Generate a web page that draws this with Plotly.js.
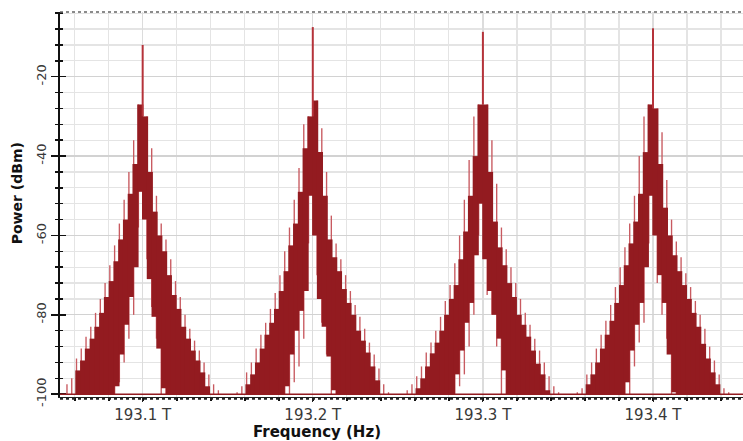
<!DOCTYPE html>
<html><head><meta charset="utf-8">
<script src="https://cdn.plot.ly/plotly-3.0.1.min.js"></script>
<style>html,body{margin:0;padding:0;background:#fff}#chart{width:743px;height:441px}</style>
</head><body><div id="chart"></div>
<script>
// ---- data ----
const peakCenters = [193.1, 193.2, 193.3, 193.4];          // THz
const peakTops    = [-12, -7.5, -8.7, -7.8];               // dBm, central spike
const slotOffsets = [-0.0434,-0.0406,-0.0378,-0.035,-0.0322,-0.0294,-0.0266,-0.0238,-0.021,-0.0182,-0.0154,-0.0126,-0.0098,-0.007,-0.0042,-0.0014,
                      0.0014,0.0042,0.007,0.0098,0.0126,0.0154,0.0182,0.021,0.0238,0.0266,0.0294,0.0322,0.035,0.0378,0.0406,0.0434]; // THz from centre

// dense part (top / bottom of each step, dBm)
const p1Top  = [-100,-100,-94,-91.5,-88.5,-86,-83,-79.5,-75.5,-71.5,-66.5,-61,-56,-49.5,-42,-27,-30,-44,-54,-60,-64,-70,-75,-78.5,-83,-86,-89,-91.5,-94.5,-98,-100,-100];
const p1Base = [-100,-100,-100,-100,-100,-100,-100,-100,-100,-100,-98,-90,-82.5,-75.5,-68,-49,-56,-71,-80.5,-88.5,-98.5,-100,-100,-100,-100,-100,-100,-100,-100,-100,-100,-100];
const p2Top  = [-100,-100,-97.5,-95,-92,-88.5,-85,-82,-78.5,-74,-69,-62.5,-57,-49,-38,-30,-26,-39,-50,-61,-65.5,-69,-73.5,-77,-80,-84,-86.5,-89.5,-93,-96.5,-100,-100];
const p2Base = [-100,-100,-100,-100,-100,-100,-100,-100,-100,-100,-98,-90,-84,-79,-74,-50,-60,-76,-83,-90.5,-99,-100,-100,-100,-100,-100,-100,-100,-100,-100,-100,-100];
const p3Top  = [-100,-100,-98.5,-96,-93,-89.7,-87,-84,-80,-76,-72.5,-66,-59,-50,-40,-27,-27,-44,-56.5,-63,-67.5,-72,-75.5,-80,-82.5,-85.5,-89,-92.3,-95,-99,-100,-100];
const p3Base = [-100,-100,-100,-100,-100,-100,-100,-100,-100,-100,-95,-89,-82,-77,-65,-52,-66,-74,-80,-86,-94,-100,-100,-100,-100,-100,-100,-100,-100,-100,-100,-100];
const p4Top  = [-100,-100,-97.5,-95,-92,-88.5,-85,-81.5,-77,-72.5,-67.5,-62,-56.5,-49.5,-39,-27,-28,-42,-53,-60,-65,-69,-72.5,-76,-79.5,-83,-87.3,-91,-94.5,-97.5,-100,-100];
const p4Base = [-100,-100,-100,-100,-100,-100,-100,-100,-100,-100,-97,-89,-82.5,-77,-68,-50,-60,-70,-77,-90,-99.5,-100,-100,-100,-100,-100,-100,-100,-100,-100,-100,-100];

// thin single lines (top / bottom, dBm)
const p1LineTop  = [-97.5,-96,-91,-88.5,-85.5,-83,-79.5,-76,-72,-67.5,-62.5,-57,-51,-44,-36,-27,-30,-38,-50,-57,-61,-66,-71.5,-75.5,-80,-83.5,-86.5,-89,-92,-95,-97.5,-99];
const p1LineBase = [-100,-100,-100,-100,-100,-100,-100,-100,-100,-100,-100,-97,-92,-86,-80,-58,-66,-78,-86,-100,-100,-100,-100,-100,-100,-100,-100,-100,-100,-100,-100,-100];
const p2LineTop  = [-99.5,-98,-94.5,-92,-88.5,-85,-82,-78.5,-74.5,-70,-64,-58,-51,-43,-32,-30,-26,-33,-44,-55,-62,-66,-70,-74,-77.5,-80.5,-83.5,-87,-90,-93.5,-97.5,-99.5];
const p2LineBase = [-100,-100,-100,-100,-100,-100,-100,-100,-100,-100,-100,-100,-97,-93,-86,-62,-70,-82,-90,-100,-100,-100,-100,-100,-100,-100,-100,-100,-100,-100,-100,-100];
const p3LineTop  = [-99,-97.5,-95.5,-93,-89.5,-87,-84,-80.5,-76.5,-72.5,-67,-60,-51,-41,-30,-27,-27,-36,-47,-58,-63.5,-68,-72,-76,-79.5,-82.5,-86,-89,-92,-95.5,-98,-99.5];
const p3LineBase = [-100,-100,-100,-100,-100,-100,-100,-100,-100,-100,-100,-98,-95,-88,-80,-60,-75,-80,-88,-100,-100,-100,-100,-100,-100,-100,-100,-100,-100,-100,-100,-100];
const p4LineTop  = [-99.5,-98.5,-95,-92,-88.5,-85,-81.5,-77.5,-73,-68,-63,-57,-50,-40,-30,-27,-28,-34,-46,-56,-61.5,-65.5,-69.5,-73,-76.5,-80,-83.5,-88,-91.5,-95,-98.5,-99.5];
const p4LineBase = [-100,-100,-100,-100,-100,-100,-100,-100,-100,-100,-100,-100,-93,-87,-82,-62,-72,-80,-86,-100,-100,-100,-100,-100,-100,-100,-100,-100,-100,-100,-100,-100];

const xTickValues = [193.1, 193.2, 193.3, 193.4];
const xTickLabels = ['193.1 T', '193.2 T', '193.3 T', '193.4 T'];
const yTickValues = [-100, -80, -60, -40, -20];
const yTickLabels = ['-100', '-80', '-60', '-40', '-20'];

// ---- build traces ----
const tops = [p1Top, p2Top, p3Top, p4Top];
const bases = [p1Base, p2Base, p3Base, p4Base];
const lineTops = [p1LineTop, p2LineTop, p3LineTop, p4LineTop];
const lineBases = [p1LineBase, p2LineBase, p3LineBase, p4LineBase];

const DARK = '#931B20', LIGHT = '#C85A60', SPIKE = '#B5333A';
const dx = [], db = [], dy = [], lx = [], lb = [], ly = [], sx = [], sy = [];
peakCenters.forEach((c, i) => {
  slotOffsets.forEach((o, k) => {
    const t = tops[i][k], b = bases[i][k];
    if (t > b) { dx.push(c + o); db.push(b); dy.push(t - b); }
    const lt = lineTops[i][k], lbv = lineBases[i][k];
    if (lt > lbv) { lx.push(c + o + (o < 0 ? -0.0011 : 0.0011)); lb.push(lbv); ly.push(lt - lbv); }
  });
  const mid = slotOffsets.length / 2;
  sx.push(c, c, null);
  sy.push(Math.min(tops[i][mid - 1], tops[i][mid]), peakTops[i], null);
});

const yRange = [-100.7, -3.7];
const traces = [
  {type: 'bar', x: lx, y: ly, base: lb, width: 0.0008, marker: {color: LIGHT, line: {width: 0}}, hoverinfo: 'skip'},
  {type: 'bar', x: dx, y: dy, base: db, width: 0.0036, marker: {color: DARK, line: {width: 0}}, hoverinfo: 'skip'},
  {type: 'scatter', mode: 'lines', x: sx, y: sy, yaxis: 'y2', line: {color: SPIKE, width: 2}, hoverinfo: 'skip'}
];

const axFont = {family: 'DejaVu Sans, sans-serif', size: 13, color: '#383838'};
const layout = {
  width: 743, height: 441,
  margin: {l: 60, r: 0, t: 12, b: 44, pad: 0},
  paper_bgcolor: '#fff', plot_bgcolor: '#fff',
  showlegend: false, barmode: 'overlay',
  xaxis: {
    range: [193.0514, 193.4529], tickmode: 'array', tickvals: xTickValues, ticktext: xTickLabels,
    tickfont: {family: 'DejaVu Sans, sans-serif', size: 15, color: '#383838'},
    ticks: 'outside', ticklen: 4, tickcolor: '#222', tickwidth: 1,
    ticklabelstandoff: 0,
    showgrid: true, gridcolor: '#DCDCDC', gridwidth: 1.2,
    minor: {tickmode: 'linear', tick0: 193.1, dtick: 0.02, ticks: 'outside', ticklen: 3, tickcolor: '#111', tickwidth: 2,
            showgrid: true, gridcolor: '#E4E4E4', gridwidth: 1.2},
    showline: true, linecolor: '#222', linewidth: 1, zeroline: false, mirror: false
  },
  yaxis: {
    range: yRange, tickmode: 'array', tickvals: yTickValues, ticktext: yTickLabels,
    tickangle: -90, tickfont: axFont,
    ticks: 'outside', ticklen: 7, tickcolor: '#111', tickwidth: 1.5,
    showgrid: true, gridcolor: '#D2D2D2', gridwidth: 1.2,
    minor: {tickmode: 'linear', tick0: -100, dtick: 4, ticks: 'outside', ticklen: 3, tickcolor: '#111', tickwidth: 1.5,
            showgrid: true, gridcolor: '#E4E4E4', gridwidth: 1.2},
    showline: true, linecolor: '#111', linewidth: 2, zeroline: false
  },
  yaxis2: {
    range: yRange, overlaying: 'y', side: 'left', tickmode: 'array', tickvals: yTickValues,
    showticklabels: false, ticks: 'inside', ticklen: 6, tickcolor: '#111', tickwidth: 1.5,
    minor: {tickmode: 'linear', tick0: -100, dtick: 4, ticks: 'inside', ticklen: 3, tickcolor: '#111', tickwidth: 1.5, showgrid: false},
    showgrid: false, zeroline: false, showline: false
  },
  shapes: [
    {type: 'line', xref: 'paper', x0: 0, x1: 1, yref: 'y', y0: -100, y1: -100, line: {color: DARK, width: 1.5}},
    {type: 'line', xref: 'paper', x0: 0, x1: 1, yref: 'paper', y0: 1, y1: 1, line: {color: '#666', width: 1.5, dash: 'dot'}},
    {type: 'line', xref: 'paper', x0: 0, x1: 1, yref: 'paper', y0: -0.004, y1: -0.004, line: {color: '#222', width: 2.5, dash: 'dot'}}
  ],
  annotations: [
    {text: '<b>Frequency (Hz)</b>', xref: 'paper', yref: 'paper', x: 0.376, y: -0.092, xanchor: 'center', yanchor: 'middle',
     showarrow: false, font: {family: 'DejaVu Sans, sans-serif', size: 15, color: '#111'}},
    {text: '<b>Power (dBm)</b>', xref: 'paper', yref: 'paper', x: -0.0625, y: 0.53, xanchor: 'center', yanchor: 'middle',
     textangle: -90, showarrow: false, font: {family: 'DejaVu Sans, sans-serif', size: 14, color: '#111'}}
  ]
};

Plotly.newPlot('chart', traces, layout, {staticPlot: true, displayModeBar: false});
</script>
</body></html>
